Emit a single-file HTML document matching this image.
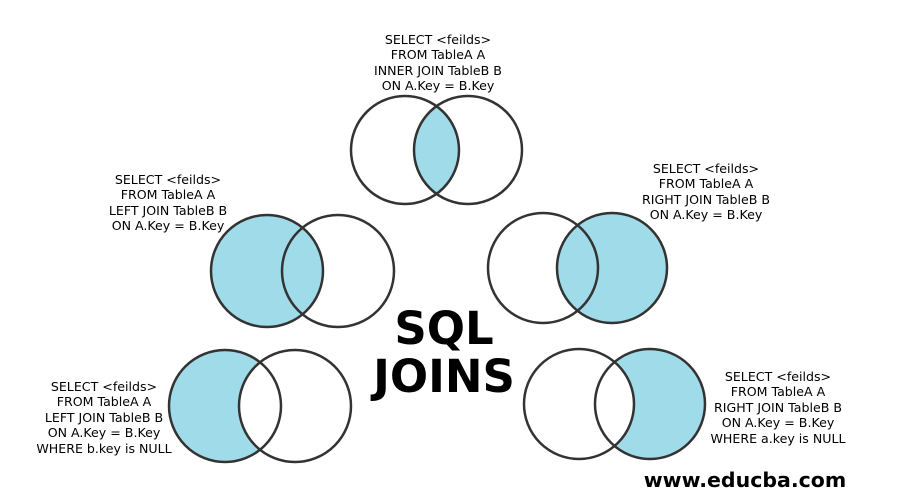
<!DOCTYPE html>
<html><head><meta charset="utf-8"><style>
html,body{margin:0;padding:0;background:#fff;}
svg{display:block;}
text{font-family:"DejaVu Sans","Liberation Sans",sans-serif;fill:#000;}
.t{font-size:12.6px;text-anchor:middle;}
</style></head><body>
<svg width="900" height="500" viewBox="0 0 900 500">
<defs>
<clipPath id="c1"><circle cx="405" cy="150" r="54"/></clipPath>
<clipPath id="c4"><circle cx="295" cy="406" r="56"/></clipPath>
<clipPath id="c5"><circle cx="579" cy="404" r="55"/></clipPath>
</defs>
<g fill="#a0dbe9">
<circle cx="468" cy="150" r="54" clip-path="url(#c1)"/>
<circle cx="267" cy="271" r="56"/>
<circle cx="612" cy="268" r="55"/>
<circle cx="225" cy="406" r="56"/>
<circle cx="650" cy="404" r="55"/>
</g>
<g fill="#fff">
<circle cx="225" cy="406" r="56" clip-path="url(#c4)"/>
<circle cx="650" cy="404" r="55" clip-path="url(#c5)"/>
</g>
<g fill="none" stroke="#333" stroke-width="2.5">
<circle cx="405" cy="150" r="54"/><circle cx="468" cy="150" r="54"/>
<circle cx="267" cy="271" r="56"/><circle cx="338" cy="271" r="56"/>
<circle cx="543" cy="268" r="55"/><circle cx="612" cy="268" r="55"/>
<circle cx="225" cy="406" r="56"/><circle cx="295" cy="406" r="56"/>
<circle cx="579" cy="404" r="55"/><circle cx="650" cy="404" r="55"/>
</g>
<g>
<text x="438" y="44" class="t">SELECT &lt;feilds&gt;</text>
<text x="438" y="59" class="t">FROM TableA A</text>
<text x="438" y="75" class="t">INNER JOIN TableB B</text>
<text x="438" y="90" class="t">ON A.Key = B.Key</text>

<text x="168" y="184" class="t">SELECT &lt;feilds&gt;</text>
<text x="168" y="199" class="t">FROM TableA A</text>
<text x="168" y="215" class="t">LEFT JOIN TableB B</text>
<text x="168" y="230" class="t">ON A.Key = B.Key</text>

<text x="706" y="173" class="t">SELECT &lt;feilds&gt;</text>
<text x="706" y="188" class="t">FROM TableA A</text>
<text x="706" y="204" class="t">RIGHT JOIN TableB B</text>
<text x="706" y="219" class="t">ON A.Key = B.Key</text>

<text x="104" y="391" class="t">SELECT &lt;feilds&gt;</text>
<text x="104" y="406" class="t">FROM TableA A</text>
<text x="104" y="422" class="t">LEFT JOIN TableB B</text>
<text x="104" y="437" class="t">ON A.Key = B.Key</text>
<text x="104" y="453" class="t">WHERE b.key is NULL</text>

<text x="778" y="381" class="t">SELECT &lt;feilds&gt;</text>
<text x="778" y="396" class="t">FROM TableA A</text>
<text x="778" y="412" class="t">RIGHT JOIN TableB B</text>
<text x="778" y="427" class="t">ON A.Key = B.Key</text>
<text x="778" y="443" class="t">WHERE a.key is NULL</text>
</g>
<text x="444" y="344" font-size="45" font-weight="bold" text-anchor="middle">SQL</text>
<text x="444" y="392" font-size="45" font-weight="bold" text-anchor="middle">JOINS</text>
<text x="745" y="487" font-size="20.5" font-weight="bold" text-anchor="middle">www.educba.com</text>
</svg>
</body></html>
